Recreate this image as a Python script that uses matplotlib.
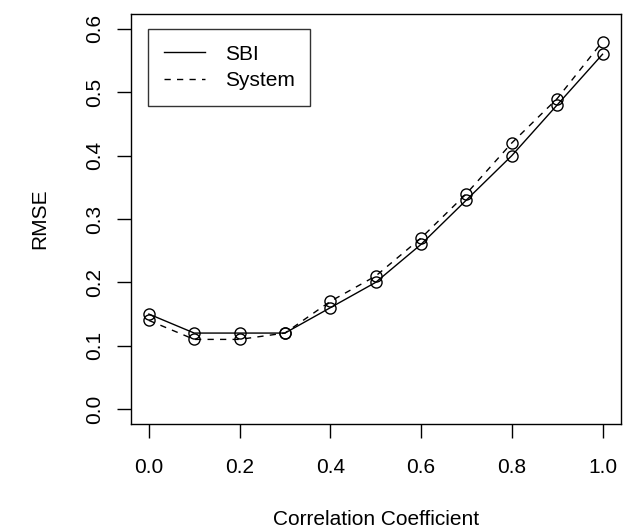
import matplotlib
matplotlib.use("Agg")
import matplotlib.pyplot as plt

corr = [0.0, 0.1, 0.2, 0.3, 0.4, 0.5, 0.6, 0.7, 0.8, 0.9, 1.0]
sbi = [0.15, 0.12, 0.12, 0.12, 0.16, 0.20, 0.26, 0.33, 0.40, 0.48, 0.56]
system = [0.14, 0.11, 0.11, 0.12, 0.17, 0.21, 0.27, 0.34, 0.42, 0.49, 0.58]
xticks = [0.0, 0.2, 0.4, 0.6, 0.8, 1.0]
yticks = [0.0, 0.1, 0.2, 0.3, 0.4, 0.5, 0.6]

plt.rcParams['font.family'] = ['Liberation Sans', 'DejaVu Sans']
FS = 15

fig = plt.figure(figsize=(6.41, 5.29), dpi=100)
ax = fig.add_axes([0.2039, 0.1979, 0.7644, 0.7762])

ax.plot(corr, sbi, color='black', lw=1.0, ls='-', label='SBI')
ax.plot(corr, sbi, ls='none', marker='o', mfc='none', mec='black', ms=8, mew=1.0)
ax.plot(corr, system, color='black', lw=1.0, ls=(0, (4.5, 4.5)), label='System')
ax.plot(corr, system, ls='none', marker='o', mfc='none', mec='black', ms=8, mew=1.0)

ax.set_xlim(-0.04, 1.04)
ax.set_ylim(-0.024, 0.624)
ax.set_xticks(xticks)
ax.set_xticklabels([f"{v:.1f}" for v in xticks], fontsize=FS)
ax.set_yticks(yticks)
ax.set_yticklabels([f"{v:.1f}" for v in yticks], fontsize=FS, rotation=90, va='center')
ax.tick_params(length=10, width=1.0)
ax.tick_params(axis='x', pad=14)
ax.tick_params(axis='y', pad=9)

ax.set_xlabel('Correlation Coefficient', fontsize=FS, labelpad=24)
ax.set_ylabel('RMSE', fontsize=FS, labelpad=26)

for s in ax.spines.values():
    s.set_linewidth(1.0)

leg = ax.legend(loc='upper left', bbox_to_anchor=(0.036, 0.962), fontsize=FS,
                frameon=True, fancybox=False, handlelength=2.0, handletextpad=0.96,
                borderpad=0.73, labelspacing=0.38, borderaxespad=0)
leg.get_frame().set_edgecolor('black')
leg.get_frame().set_linewidth(1.0)

fig.savefig('out.png', dpi=100)
